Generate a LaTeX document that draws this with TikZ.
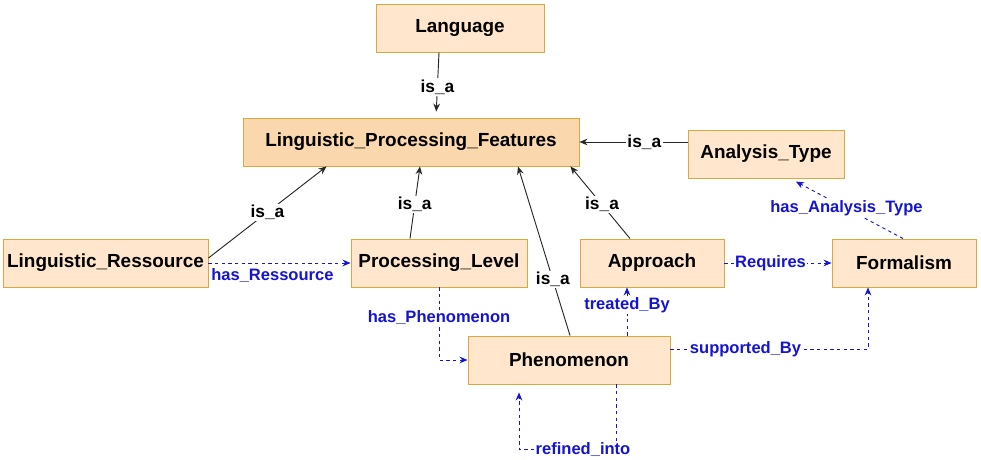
\documentclass[tikz,border=0pt]{standalone}
\usepackage{fontspec}
\setmainfont{Liberation Sans}
\usetikzlibrary{arrows.meta,calc}
\definecolor{boxfill}{RGB}{255,230,204}
\definecolor{topfill}{RGB}{250,215,172}
\definecolor{boxline}{RGB}{218,168,60}
\definecolor{relblue}{RGB}{20,20,210}
\begin{document}
\begin{tikzpicture}[x=0.75pt,y=-0.75pt]
		\tikzstyle{box}=[draw=boxline,fill=boxfill,line width=0.7pt,minimum height=36pt,font=\fontsize{14.2}{16}\selectfont\bfseries,inner sep=2pt]
		\tikzstyle{isa}=[draw=black!85,line width=0.7pt,-{Stealth[length=6pt,width=5pt]}]
		\tikzstyle{rel}=[draw=relblue,line width=0.7pt,dash pattern=on 2.5pt off 2.5pt,-{Stealth[length=6pt,width=5pt]}]
		\tikzstyle{lbl}=[fill=white,inner sep=1pt,font=\fontsize{13}{15}\selectfont\bfseries]
		\tikzstyle{rlbl}=[fill=white,inner sep=1pt,text=relblue,font=\fontsize{12.4}{14}\selectfont\bfseries]
		\useasboundingbox (0,0) rectangle (981,460);
		\node [box,minimum width=126pt] (lang) at (460,28) {Language};
		\node [box,fill=topfill,minimum width=252pt] (lpf) at (411,142) {Linguistic\_Processing\_Features};
		\node [box,minimum width=117pt] (atype) at (766,154) {Analysis\_Type};
		\node [box,minimum width=153.75pt] (lres) at (105.5,263) {Linguistic\_Ressource};
		\node [box,minimum width=132pt] (plevel) at (439,263) {Processing\_Level};
		\node [box,minimum width=108pt] (appr) at (652,263) {Approach};
		\node [box,minimum width=108pt] (form) at (904,263) {Formalism};
		\node [box,minimum width=151.5pt] (phen) at (569,360) {Phenomenon};
		% is_a links
		\draw [isa,shorten >=4.5pt] ($(lang.south)+(-21,0)$) -- node [lbl,pos=.53] {is\_a} ($(lpf.north)+(25,0)$);
		\draw [isa] (atype.west |- lpf.east) -- node [lbl,pos=.4] {is\_a} (lpf.east);
		\draw [isa] ($(lres.east)+(0,-5)$) -- node [lbl] {is\_a} ($(lpf.south west)+(84,0)$);
		\draw [isa] ($(plevel.north)+(-29,0)$) -- node [lbl,pos=.47] {is\_a} ($(lpf.south)+(9,0)$);
		\draw [isa] ($(phen.north)+(1,0)$) -- node [lbl,pos=.33] {is\_a} ($(lpf.south)+(107,0)$);
		\draw [isa] ($(appr.north)+(-22,0)$) -- node [lbl,pos=.47] {is\_a} ($(lpf.south east)+(-9,0)$);
		% relations
		\draw [rel] (lres.east) -- node [rlbl,pos=.45,below=3pt,fill=none] {has\_Ressource} (plevel.west);
		\draw [rel] (plevel.south) |- node [rlbl,pos=.21] {has\_Phenomenon} (phen.west);
		\draw [rel] (appr.east) -- node [rlbl,pos=.43] {Requires} (form.west);
		\draw [rel,shorten >=5pt] ($(form.north)+(-1,0)$) -- node [rlbl] {has\_Analysis\_Type} ($(atype.south)+(24,0)$);
		\draw [rel] ($(phen.north)+(58,0)$) -- node [rlbl,pos=.63] {treated\_By} ($(appr.south)+(-25,0)$);
		\draw [rel] ($(phen.east)+(0,-11)$) -| node [rlbl,pos=.19] {supported\_By} ($(form.south)+(-36,0)$);
		\draw [rel,shorten >=6pt] ($(phen.south)+(47,0)$) -- ++(0,65) -- node [rlbl,pos=.34] {refined\_into} ++(-97,0) -- ($(phen.south)+(-50,0)$);
	\end{tikzpicture}
\end{document}
